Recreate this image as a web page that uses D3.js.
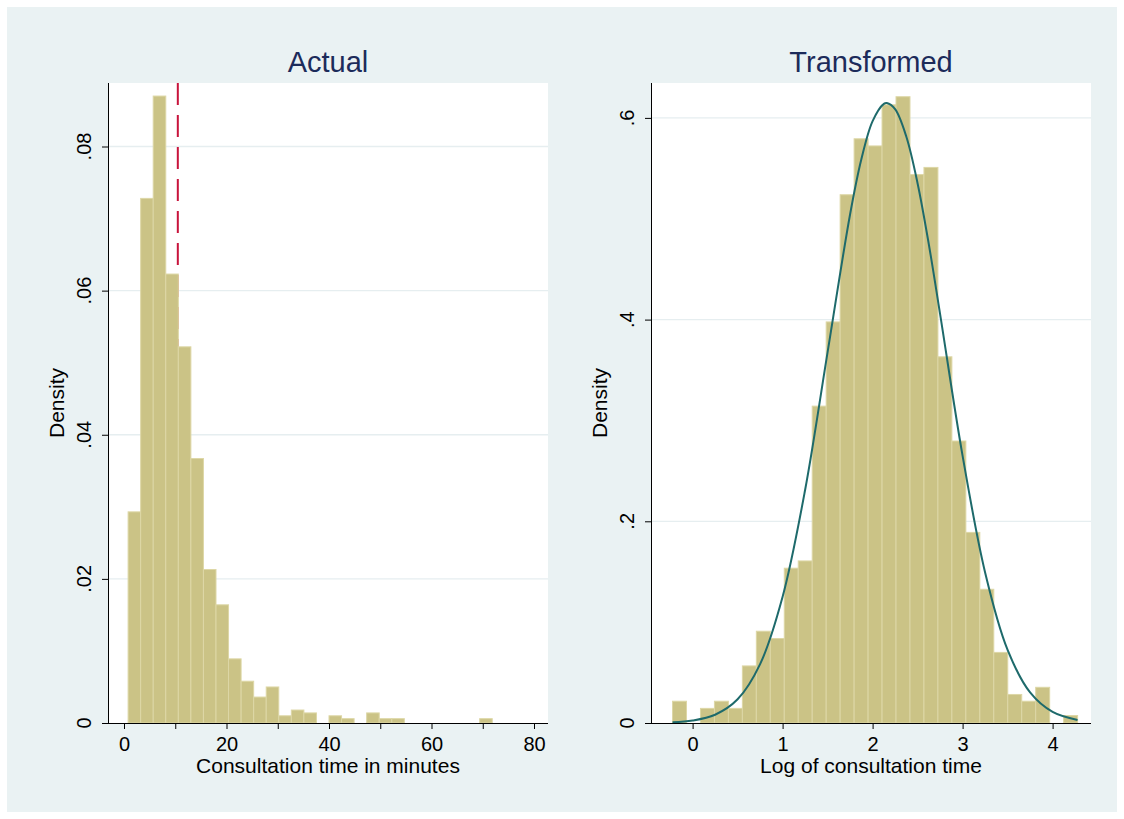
<!DOCTYPE html>
<html>
<head>
<meta charset="utf-8">
<script src="https://cdn.jsdelivr.net/npm/d3@7"></script>
<style>
  body { margin: 0; background: #fff; }
  text { font-family: "Liberation Sans", Arial, Helvetica, sans-serif; }
</style>
</head>
<body>
<div id="chart"></div>
<script>
// histogram data

// left: consultation time in minutes
var actualDensity = [0.0293, 0.0728, 0.0870, 0.0623, 0.0522, 0.0367, 0.0213, 0.0164, 0.0089, 0.0058,
                     0.0036, 0.0050, 0.0010, 0.0018, 0.0014, 0, 0.0010, 0.0006, 0, 0.0014,
                     0.0006, 0.0006, 0, 0, 0, 0, 0, 0, 0.0006];
var actualBinStart = 0.8;
var actualBinWidth = 2.45;
var actualMarker = 10.5; // dashed red line
var actualXTicks = [0, 20, 40, 60, 80];
var actualXMinor = [10, 30, 50, 70];
var actualYTicks = [0, 0.02, 0.04, 0.06, 0.08];
var actualYLabels = ["0", ".02", ".04", ".06", ".08"];

// right: log of consultation time
var logDensity = [0.0216, 0, 0.0145, 0.0216, 0.0145, 0.0566, 0.0910, 0.0838, 0.1535, 0.1607,
                  0.3142, 0.3977, 0.5238, 0.5793, 0.5722, 0.6130, 0.6210, 0.5438, 0.5509, 0.3631,
                  0.2796, 0.1890, 0.1326, 0.0700, 0.0283, 0.0216, 0.0354, 0, 0.0074];
var logBinStart = -0.223;
var logBinWidth = 0.1552;
var logXTicks = [0, 1, 2, 3, 4];
var logYTicks = [0, 0.2, 0.4, 0.6];
var logYLabels = ["0", ".2", ".4", ".6"];

// normal density overlay
var normalX = [-0.223, 0, 0.25, 0.5, 0.75, 1.0, 1.25, 1.5, 1.75, 1.875, 2.0, 2.125, 2.158, 2.25,
               2.375, 2.5, 2.625, 2.75, 3.0, 3.25, 3.5, 3.75, 4.0, 4.277];
var normalY = [0.0007, 0.0024, 0.0082, 0.0235, 0.0584, 0.1252, 0.2310, 0.3677, 0.5045, 0.5590,
               0.5968, 0.6139, 0.6147, 0.6086, 0.5813, 0.5350, 0.4745, 0.4055, 0.2649, 0.1493,
               0.0725, 0.0303, 0.0110, 0.0030];

createGraph();

function createGraph() {
    var width = 1124;
    var height = 819;

    var svg = d3.select("#chart").append("svg")
        .attr("width", width)
        .attr("height", height);

    // white margin then the bluish graph region
    svg.append("rect").attr("width", width).attr("height", height).attr("fill", "#ffffff");
    svg.append("rect")
        .attr("x", 7).attr("y", 7)
        .attr("width", 1110).attr("height", 805)
        .attr("fill", "#eaf2f3");

    drawPanel(svg, {
        title: "Actual",
        xTitle: "Consultation time in minutes",
        left: 108, right: 548, top: 83, bottom: 723,
        xDomain: [0, 80], xRange: [124, 534],
        yDomain: [0, 0.08], yRange: [723, 146.5],
        density: actualDensity, binStart: actualBinStart, binWidth: actualBinWidth,
        xTicks: actualXTicks, xMinor: actualXMinor,
        yTicks: actualYTicks, yLabels: actualYLabels,
        marker: actualMarker
    });

    drawPanel(svg, {
        title: "Transformed",
        xTitle: "Log of consultation time",
        left: 651, right: 1091, top: 83, bottom: 723,
        xDomain: [0, 4], xRange: [692.6, 1052.6],
        yDomain: [0, 0.6], yRange: [723, 117.9],
        density: logDensity, binStart: logBinStart, binWidth: logBinWidth,
        xTicks: logXTicks, xMinor: [],
        yTicks: logYTicks, yLabels: logYLabels,
        curveX: normalX, curveY: normalY
    });
}

function drawPanel(svg, cfg) {
    var x = d3.scaleLinear().domain(cfg.xDomain).range(cfg.xRange);
    var y = d3.scaleLinear().domain(cfg.yDomain).range(cfg.yRange);
    var g = svg.append("g");

    // plot region
    g.append("rect")
        .attr("x", cfg.left).attr("y", cfg.top)
        .attr("width", cfg.right - cfg.left)
        .attr("height", cfg.bottom - cfg.top)
        .attr("fill", "#ffffff");

    // grid lines
    g.selectAll(".grid")
        .data(cfg.yTicks.filter(function (d) { return d > 0; }))
        .enter().append("line")
        .attr("x1", cfg.left).attr("x2", cfg.right)
        .attr("y1", function (d) { return y(d); })
        .attr("y2", function (d) { return y(d); })
        .attr("stroke", "#e6eef0")
        .attr("stroke-width", 1.3);

    // reference line sits behind the bars
    if (cfg.marker !== undefined) {
        g.append("line")
            .attr("x1", x(cfg.marker)).attr("x2", x(cfg.marker))
            .attr("y1", cfg.top).attr("y2", y(0))
            .attr("stroke", "#c8143c")
            .attr("stroke-width", 2)
            .attr("stroke-dasharray", "22,10");
    }

    // bars
    var bins = cfg.density.map(function (d, i) {
        return { x0: cfg.binStart + i * cfg.binWidth, x1: cfg.binStart + (i + 1) * cfg.binWidth, v: d };
    }).filter(function (d) { return d.v > 0; });

    g.selectAll(".bar")
        .data(bins)
        .enter().append("rect")
        .attr("x", function (d) { return x(d.x0); })
        .attr("width", function (d) { return x(d.x1) - x(d.x0); })
        .attr("y", function (d) { return y(d.v); })
        .attr("height", function (d) { return y(0) - y(d.v); })
        .attr("fill", "#cbc386")
        .attr("stroke", "#ddd7a6")
        .attr("stroke-width", 1);

    // normal curve
    if (cfg.curveX) {
        var pts = cfg.curveX.map(function (d, i) { return [d, cfg.curveY[i]]; });
        var line = d3.line()
            .x(function (d) { return x(d[0]); })
            .y(function (d) { return y(d[1]); })
            .curve(d3.curveCatmullRom);
        g.append("path")
            .attr("d", line(pts))
            .attr("fill", "none")
            .attr("stroke", "#1e6a6b")
            .attr("stroke-width", 2);
    }

    // x axis
    var xAxis = d3.axisBottom(x)
        .tickValues(cfg.xTicks.concat(cfg.xMinor))
        .tickSize(6)
        .tickSizeOuter(0)
        .tickPadding(8)
        .tickFormat(function (d) { return cfg.xMinor.indexOf(d) >= 0 ? "" : d3.format("d")(d); });
    var ax = g.append("g")
        .attr("transform", "translate(0," + cfg.bottom + ")")
        .call(xAxis);
    ax.select(".domain").remove();
    ax.selectAll("line").attr("stroke", "#000");
    ax.selectAll("text")
        .attr("fill", "#000")
        .style("font-size", "20px")
        .style("font-family", "'Liberation Sans', Arial, sans-serif");
    g.append("line")
        .attr("x1", cfg.left).attr("x2", cfg.right)
        .attr("y1", cfg.bottom + 0.5).attr("y2", cfg.bottom + 0.5)
        .attr("stroke", "#000");

    // y axis
    g.append("line")
        .attr("x1", cfg.left + 0.5).attr("x2", cfg.left + 0.5)
        .attr("y1", cfg.top).attr("y2", cfg.bottom)
        .attr("stroke", "#000");
    g.selectAll(".ytick")
        .data(cfg.yTicks)
        .enter().append("line")
        .attr("x1", cfg.left - 6).attr("x2", cfg.left)
        .attr("y1", function (d) { return y(d) + 0.5; })
        .attr("y2", function (d) { return y(d) + 0.5; })
        .attr("stroke", "#000");
    g.selectAll(".ylab")
        .data(cfg.yTicks)
        .enter().append("text")
        .attr("transform", function (d) { return "translate(" + (cfg.left - 17) + "," + y(d) + ") rotate(-90)"; })
        .attr("text-anchor", "middle")
        .attr("fill", "#000")
        .style("font-size", "20px")
        .text(function (d, i) { return cfg.yLabels[i]; });

    // axis titles
    g.append("text")
        .attr("transform", "translate(" + (cfg.left - 44) + "," + ((cfg.top + cfg.bottom) / 2) + ") rotate(-90)")
        .attr("text-anchor", "middle")
        .attr("fill", "#000")
        .style("font-size", "21px")
        .text("Density");

    g.append("text")
        .attr("x", (cfg.left + cfg.right) / 2)
        .attr("y", 773)
        .attr("text-anchor", "middle")
        .attr("fill", "#000")
        .style("font-size", "21px")
        .text(cfg.xTitle);

    // panel title
    g.append("text")
        .attr("x", (cfg.left + cfg.right) / 2)
        .attr("y", 72)
        .attr("text-anchor", "middle")
        .attr("fill", "#1c2b5a")
        .style("font-size", "29px")
        .text(cfg.title);
}
</script>
</body>
</html>
